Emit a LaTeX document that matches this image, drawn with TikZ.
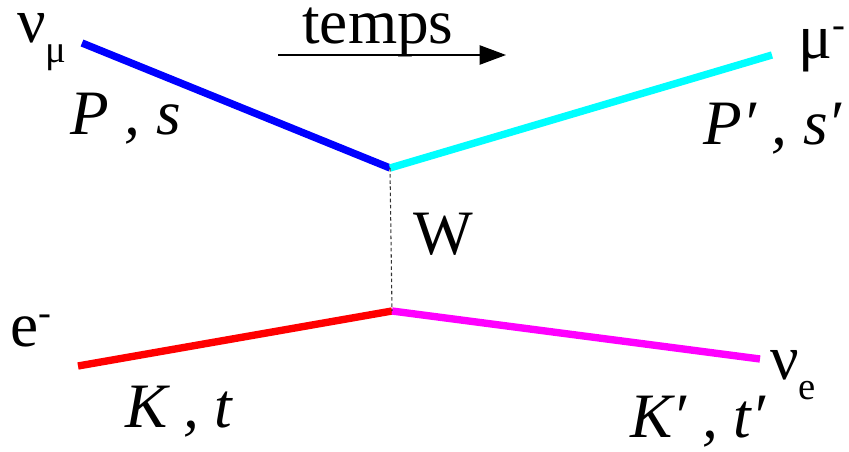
\documentclass[tikz,border=0pt]{standalone}
\usepackage{fontspec}
\setmainfont{Liberation Serif}
\usetikzlibrary{arrows.meta}
\definecolor{numucol}{RGB}{0,0,255}
\definecolor{mucol}{RGB}{0,255,255}
\definecolor{elcol}{RGB}{255,0,0}
\definecolor{nuecol}{RGB}{255,0,255}

\begin{document}
\begin{tikzpicture}[
    x=0.02cm, y=-0.02cm,
    lbl/.style={inner sep=0pt, font=\fontsize{36}{43}\selectfont},
    ferm/.style={line width=4.2pt},
    boson/.style={line width=0.6pt, black!80, dash pattern=on 2pt off 1.5pt}
]
    \useasboundingbox (0,0) rectangle (849,452);

    % vertices and ends
    \coordinate (top) at (390,168);
    \coordinate (bot) at (392,311);
    \coordinate (numu) at (82,43);
    \coordinate (mu) at (772,55);
    \coordinate (el) at (78,366);
    \coordinate (nue) at (760,359);

    % lines
    \draw[ferm, numucol] (numu) -- (top);
    \draw[ferm, mucol] (top) -- (mu);
    \draw[ferm, elcol] (el) -- (bot);
    \draw[ferm, nuecol] (bot) -- (nue);
    \draw[boson] (top) -- (bot);

    % time arrow
    \node[lbl, anchor=base west] (temps) at (302,44) {temps};
    \coordinate (tstart) at (278,55);
    \coordinate (tend) at (506,55);
    \draw[line width=0.7pt, -{Triangle[length=15pt,width=11pt]}] (tstart) -- (tend);

    % labels
    \node[lbl, anchor=base west] (lnumu) at (17,43) {ν\raisebox{-11pt}{\fontsize{22}{24}\selectfont μ}};
    \node[lbl, anchor=base west] (lps) at (70,135) {\textit{P , s}};
    \node[lbl, anchor=base west] (lmu) at (798,59) {μ\raisebox{12pt}{\fontsize{22}{24}\selectfont -}};
    \node[lbl, anchor=base west] (lpsp) at (703,145) {\textit{P′ , s′}};
    \node[lbl, anchor=base west] (lw) at (413,255) {W};
    \node[lbl, anchor=base west] (lel) at (10,347) {e\raisebox{12pt}{\fontsize{22}{24}\selectfont -}};
    \node[lbl, anchor=base west] (lkt) at (125,428) {\textit{K , t}};
    \node[lbl, anchor=base west] (lnue) at (770,380) {ν\raisebox{-11pt}{\fontsize{22}{24}\selectfont e}};
    \node[lbl, anchor=base west] (lktp) at (630,438) {\textit{K′ , t′}};

\end{tikzpicture}
\end{document}
